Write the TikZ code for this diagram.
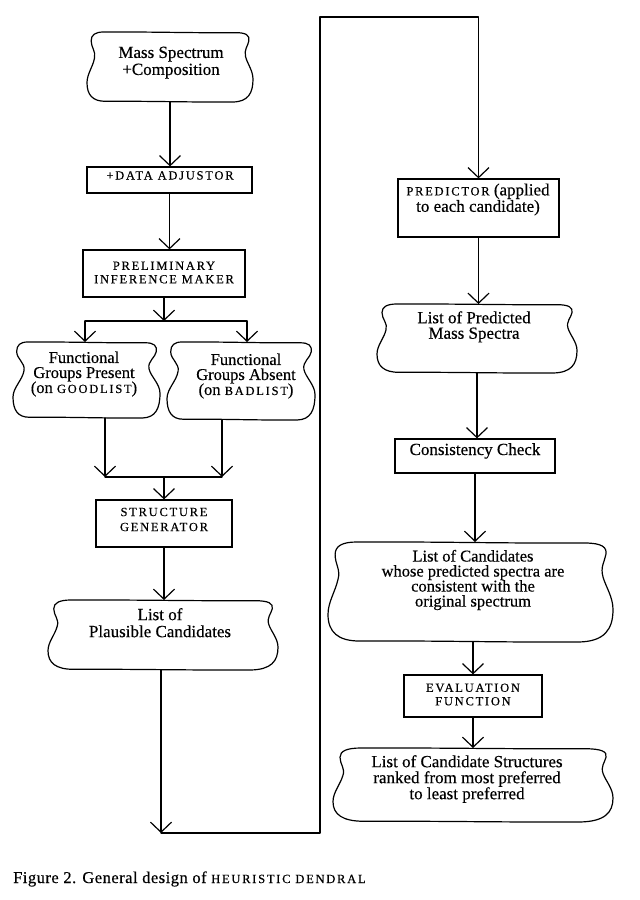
\documentclass[tikz,border=0pt]{standalone}
\usepackage{fontspec}
\setmainfont[FakeBold=0.4]{Liberation Serif}
\newfontfamily\scf[LetterSpace=14,FakeBold=0.4]{Liberation Serif}
\newfontfamily\capf[LetterSpace=3,FakeBold=0.4]{Liberation Serif}
\usetikzlibrary{arrows.meta,calc}
\newcommand{\smc}[1]{{\scf\fontsize{12.5}{13.5}\selectfont #1}}
\tikzset{
  line/.style={line width=1.2pt, line cap=round, line join=round},
  conn/.style={line, -{Straight Barb[length=10pt,width=21pt,line width=1.2pt]}},
  outline/.style={line width=1.2pt, line join=round},
  cloudarea/.style={draw=none, inner sep=0pt, outer sep=0pt, rectangle},
  pbox/.style={draw, line width=1.2pt, inner sep=0pt, rectangle},
  txt/.style={inner sep=0pt, align=center, font=\fontsize{17}{15.5}\selectfont},
  sctxt/.style={inner sep=0pt, align=center, font=\scf\fontsize{12.5}{13.5}\selectfont},
}
% name, cx, cy, half width, half height, dip
\newcommand{\cloudbox}[6]{%
  \node[cloudarea, minimum width={2*#4pt}, minimum height={2*#5pt}] (#1) at (#2,#3) {};
  \begin{scope}[shift={(#2,#3)}, x=#4pt, y=-#5pt]
    \draw[outline] (-0.80,-1)
      .. controls (-0.3,-1.01) and (0.3,-0.97) .. (0.80,-0.98)
      .. controls (0.92,-0.98) and (0.96,-0.9) .. (0.95,-0.75)
      .. controls (0.94,-0.6) and ({1-#6-0.02},-0.5) .. ({1-#6},-0.3)
      .. controls ({1-#6+0.02},-0.1) and (1.0,0.1) .. (1.0,0.35)
      .. controls (1.0,0.75) and (0.94,0.99) .. (0.76,1.0)
      .. controls (0.3,1.01) and (-0.3,0.97) .. (-0.78,0.98)
      .. controls (-0.93,0.98) and (-1.0,0.8) .. (-1.0,0.45)
      .. controls (-1.0,0.2) and ({-1+#6-0.02},0.0) .. ({-1+#6},-0.25)
      .. controls ({-1+#6+0.02},-0.45) and (-0.95,-0.55) .. (-0.95,-0.75)
      .. controls (-0.95,-0.92) and (-0.9,-1.0) .. (-0.80,-1) -- cycle;
  \end{scope}}
% name, cx, cy, width, height
\newcommand{\procbox}[5]{%
  \node[pbox, minimum width=#4pt, minimum height=#5pt] (#1) at (#2,#3) {};}
\begin{document}
\begin{tikzpicture}[x=1pt, y=-1pt]
\fill[white] (0,0) rectangle (640,900);
\useasboundingbox (0,0) rectangle (640,900);

% ---------- left column ----------
\cloudbox{ms}{170}{67}{83}{35}{0.09}
\node[txt, font=\fontsize{17}{17}\selectfont] (mst) at (171,62.6) {Mass Spectrum\\+Composition};

\procbox{da}{169.5}{180}{165}{26}
\node[sctxt, anchor=base] (dat) at (170,179.5) {+DATA ADJUSTOR};

\procbox{pim}{164}{273.5}{162}{47}
\node[sctxt, font=\scf\fontsize{12.5}{13.5}\selectfont] (pimt) at (164,272.5) {PRELIMINARY\\INFERENCE MAKER};

\coordinate (j1) at (164,321);
\coordinate (j1l) at (85,321);
\coordinate (j1r) at (247,321);

\cloudbox{fgp}{86.5}{380}{73.5}{38}{0.15}
\node[txt, font=\fontsize{16.5}{15}\selectfont] (fgpt) at (84,374) {Functional\\Groups Present\\(on \smc{GOODLIST})};

\cloudbox{fga}{241}{381}{74}{39}{0.15}
\node[txt, font=\fontsize{16.5}{15}\selectfont] (fgat) at (246,376) {Functional\\Groups Absent\\(on \smc{BADLIST})};

\coordinate (j2l) at (105,477);
\coordinate (j2r) at (222,477);

\procbox{sg}{164}{523.5}{136}{47}
\node[sctxt, font=\scf\fontsize{12.5}{15}\selectfont] (sgt) at (164,519.5) {STRUCTURE\\GENERATOR};

\cloudbox{pc}{163}{635}{115}{35}{0.08}
\node[txt, font=\fontsize{17}{17}\selectfont] (pct) at (160,622.7) {List of\\Plausible Candidates};

% ---------- right column ----------
\procbox{pred}{478.5}{208}{161}{58}
\node[txt, font=\fontsize{17}{15}\selectfont] (predt) at (478,199.5) {\smc{PREDICTOR} (applied\\to each candidate)};

\cloudbox{lpm}{477}{338.5}{100}{34.5}{0.09}
\node[txt, font=\fontsize{17}{15.5}\selectfont] (lpmt) at (474,326.8) {List of Predicted\\Mass Spectra};

\procbox{cc}{475}{456}{160}{34}
\node[txt, anchor=base] (cct) at (475,455) {Consistency Check};

\cloudbox{lc}{470.5}{592}{142.5}{50}{0.07}
\node[txt, font=\fontsize{16.5}{15}\selectfont] (lct) at (473,580) {List of Candidates\\whose predicted spectra are\\consistent with the\\original spectrum};

\procbox{ef}{473}{696}{138}{42}
\node[sctxt, font=\scf\fontsize{12.5}{13.5}\selectfont] (eft) at (473,694.5) {EVALUATION\\FUNCTION};

\cloudbox{fl}{473}{785}{140}{37}{0.07}
\node[txt, font=\fontsize{17}{16}\selectfont] (flt) at (467,779) {List of Candidate Structures\\ranked from most preferred\\to least preferred};

% ---------- connectors ----------
\draw[conn] (ms.south) -- (ms.south |- da.north);
\draw[conn] (da.south) -- (da.south |- pim.north);
\draw[conn] (pim.south) -- (pim.south |- j1);
\draw[line] (j1l) -- (j1r);
\draw[conn] (j1l) -- (j1l |- fgp.north);
\draw[conn] (j1r) -- (j1r |- fga.north);
\draw[conn] (j2l |- fgp.south) -- (j2l);
\draw[conn] (j2r |- fga.south) -- (j2r);
\draw[line] (j2l) -- (j2r);
\draw[conn] (sg.north |- j2l) -- (sg.north);
\draw[conn] (sg.south) -- (sg.south |- pc.north);

\coordinate (b1) at (161,833);
\coordinate (b2) at (320,833);
\coordinate (b3) at (320,17);
\draw[conn] (b1 |- pc.south) -- (b1);
\draw[conn] (b1) -- (b2) -- (b3) -| (pred.north);

\draw[conn] (pred.south) -- (pred.south |- lpm.north);
\draw[conn] (lpm.south) -- (lpm.south |- cc.north);
\draw[conn] (cc.south) -- (cc.south |- lc.north);
\draw[conn] (ef.north |- lc.south) -- (ef.north);
\draw[conn] (ef.south) -- (ef.south |- fl.north);

% ---------- caption ----------
\node[anchor=base west, inner sep=0pt, font=\capf\fontsize{16.5}{18}\selectfont] (cap) at (13,883)
  {Figure 2. General design of {\scf\fontsize{12.5}{13}\selectfont HEURISTIC DENDRAL}};
\end{tikzpicture}
\end{document}
